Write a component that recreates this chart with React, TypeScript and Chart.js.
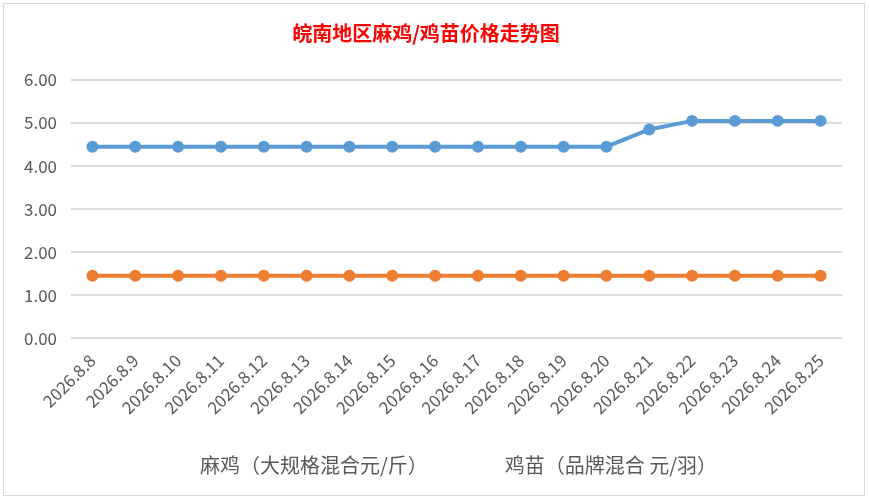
import { Chart, registerables } from 'chart.js';
import { useEffect, useRef } from 'react';

Chart.register(...registerables);

const dates = [
  '2026.8.8', '2026.8.9', '2026.8.10', '2026.8.11', '2026.8.12', '2026.8.13',
  '2026.8.14', '2026.8.15', '2026.8.16', '2026.8.17', '2026.8.18', '2026.8.19',
  '2026.8.20', '2026.8.21', '2026.8.22', '2026.8.23', '2026.8.24', '2026.8.25',
];
const maJi = [4.45, 4.45, 4.45, 4.45, 4.45, 4.45, 4.45, 4.45, 4.45, 4.45, 4.45, 4.45, 4.45, 4.85, 5.05, 5.05, 5.05, 5.05];
const jiMiao = [1.45, 1.45, 1.45, 1.45, 1.45, 1.45, 1.45, 1.45, 1.45, 1.45, 1.45, 1.45, 1.45, 1.45, 1.45, 1.45, 1.45, 1.45];

const font = '"Noto Sans CJK SC", "Noto Sans", sans-serif';

const App: React.FC = () => {
  const chartRef = useRef<HTMLCanvasElement>(null);
  const chartInstanceRef = useRef<Chart | null>(null);

  useEffect(() => {
    const ctx = chartRef.current?.getContext('2d');
    if (ctx && chartInstanceRef.current === null) {
      chartInstanceRef.current = new Chart(ctx, {
        type: 'line',
        data: {
          labels: dates,
          datasets: [
            {
              label: '麻鸡（大规格混合元/斤）',
              data: maJi,
              borderColor: '#5B9BD5',
              backgroundColor: '#5B9BD5',
              borderWidth: 4,
              pointRadius: 6,
              pointBorderWidth: 0,
              fill: false,
            },
            {
              label: '鸡苗（品牌混合 元/羽）',
              data: jiMiao,
              borderColor: '#ED7D31',
              backgroundColor: '#ED7D31',
              borderWidth: 4,
              pointRadius: 6,
              pointBorderWidth: 0,
              fill: false,
            },
          ],
        },
        options: {
          responsive: false,
          animation: false,
          layout: { padding: { left: 6, right: 22, top: 0, bottom: 10 } },
          plugins: {
            title: {
              display: true,
              text: '皖南地区麻鸡/鸡苗价格走势图',
              color: '#FF0000',
              font: { family: font, size: 20, weight: 'bold' },
              padding: { top: 17, bottom: 35 },
            },
            legend: {
              position: 'bottom',
              // empty title only adds space between the axis labels and the legend
              title: { display: true, text: '', font: { size: 10 }, padding: { top: 0, bottom: 9 } },
              labels: {
                // legend in the reference shows text only, so the boxes are transparent spacers
                boxWidth: 55,
                boxHeight: 0,
                padding: 12,
                color: '#595959',
                font: { family: font, size: 20 },
                generateLabels: (chart) =>
                  Chart.defaults.plugins.legend.labels.generateLabels(chart).map((l) => ({
                    ...l,
                    fillStyle: 'rgba(0,0,0,0)',
                    strokeStyle: 'rgba(0,0,0,0)',
                    lineWidth: 0,
                  })),
              },
            },
            tooltip: { enabled: false },
          },
          scales: {
            x: {
              offset: true,
              grid: { display: false },
              border: { display: false },
              ticks: {
                color: '#595959',
                font: { family: font, size: 17 },
                minRotation: 45,
                maxRotation: 45,
                autoSkip: false,
                padding: 4,
              },
            },
            y: {
              min: 0,
              max: 6,
              grid: { color: '#D9D9D9', lineWidth: 2, drawTicks: false },
              border: { display: false },
              ticks: {
                stepSize: 1,
                color: '#595959',
                font: { family: font, size: 17 },
                padding: 14,
                callback: (v) => Number(v).toFixed(2),
              },
            },
          },
        },
      });
    }
    return () => {
      if (chartInstanceRef.current) {
        chartInstanceRef.current.destroy();
        chartInstanceRef.current = null;
      }
    };
  }, []);

  return (
    <div style={{ position: 'fixed', left: 0, top: 0, width: 869, height: 501, background: '#fff' }}>
      <div
        style={{
          position: 'absolute',
          left: 3,
          top: 3,
          width: 860,
          height: 491,
          border: '1px solid #D9D9D9',
          background: '#fff',
        }}
      >
        <canvas ref={chartRef} width={860} height={491} />
      </div>
    </div>
  );
};

export default App;
